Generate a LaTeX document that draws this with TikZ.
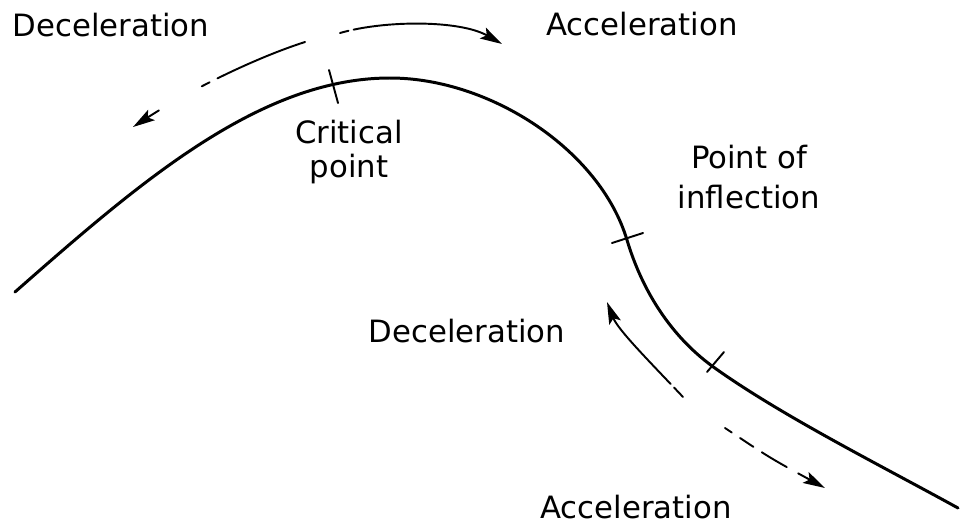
\documentclass[tikz,border=0pt]{standalone}
\usepackage{fontspec}
\setmainfont{DejaVu Sans}
\usetikzlibrary{arrows.meta}

\begin{document}
\begin{tikzpicture}[
    x=0.02cm,
    y=-0.02cm,
    line cap=round,
    line join=round,
    curve/.style={
        line width=1.7pt
    },
    tick/.style={
        line width=1.1pt
    },
    motion/.style={
        line width=1.1pt,
        -{Stealth[length=12.5pt,width=7pt,inset=2.5pt]}
    },
    lbl/.style={
        font=\fontsize{17.5}{20}\selectfont,
        inner sep=0pt
    }
]

\useasboundingbox (0,0) rectangle (960,528);

% =================================================
% Kurve
% =================================================

\coordinate (start) at (15,292);
\coordinate (peak)  at (390,78);
\coordinate (crit)  at (333,84);
\coordinate (infl)  at (627,240);
\coordinate (mark)  at (712,366);
\coordinate (stop)  at (958,508);

\draw[curve]
    (start) .. controls (140,182) and (260,78)  .. (peak)
            .. controls (490,78)  and (600,150) .. (infl)
            .. controls (642,290) and (670,335) .. (mark)
            .. controls (780,415) and (880,465) .. (stop);

% Querstriche
\draw[tick] (crit) ++(-4,-14) -- ++(9,33);
\draw[tick] (infl) ++(-15,3) -- ++(31,-10);
\draw[tick] (mark) ++(-5,6) -- ++(17,-20);

% =================================================
% Pfeile
% =================================================

\coordinate (decA) at (305,42);
\coordinate (decB) at (133,127);
\coordinate (accA) at (340,33);
\coordinate (accB) at (502,44);
\coordinate (decC) at (683,397);
\coordinate (decD) at (607,302);
\coordinate (accC) at (725,428);
\coordinate (accD) at (825,488);

\draw[motion, dash pattern=on 54pt off 5pt on 5pt off 28pt on 40pt]
    (decA) .. controls (255,58) and (190,90) .. (decB);
\draw[motion, dash pattern=on 5pt off 3pt on 200pt]
    (accA) .. controls (385,20) and (460,20) .. (accB);
\draw[motion, dash pattern=on 7.4pt off 2.8pt on 200pt]
    (decC) .. controls (650,362) and (618,330) .. (decD);
\draw[motion, dash pattern=on 4.6pt off 5.7pt on 9.1pt off 5.7pt on 16.5pt off 7.4pt on 60pt]
    (accC) .. controls (770,458) .. (accD);

% =================================================
% Beschriftung
% =================================================

\node[lbl, anchor=base] (decTop) at (111,36)  {Deceleration};
\node[lbl, anchor=base] (accTop) at (642,35)  {Acceleration};
\node[lbl, anchor=base] (decLow) at (467,342) {Deceleration};
\node[lbl, anchor=base] (accLow) at (636,518) {Acceleration};

\node[lbl, align=center, font=\fontsize{17.5}{19.4}\selectfont]
    (critLbl) at (349,152) {Critical\\point};
\node[lbl, align=center, font=\fontsize{17.5}{22.8}\selectfont]
    (inflLbl) at (749,177) {Point of\\inflection};

\end{tikzpicture}
\end{document}
